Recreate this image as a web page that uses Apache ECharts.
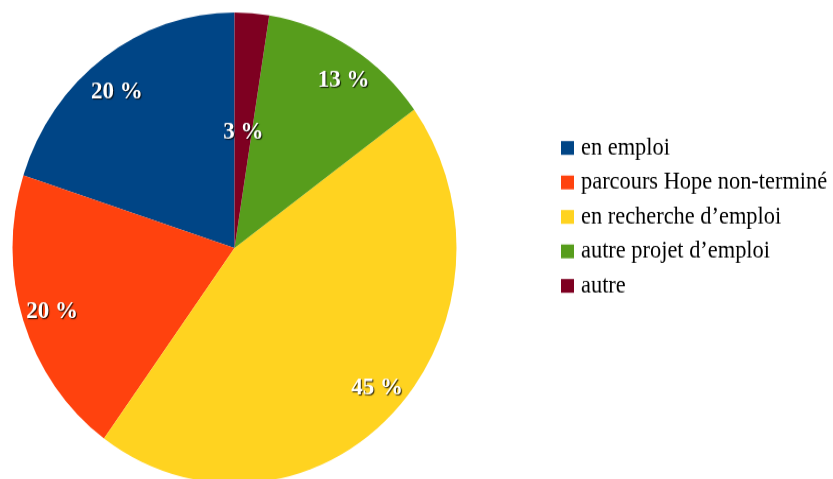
<!DOCTYPE html>
<html>
<head>
<meta charset="utf-8">
<script src="https://cdn.jsdelivr.net/npm/echarts@6/dist/echarts.min.js"></script>
<style>
    html, body { margin: 0; padding: 0; background: #fff; overflow: hidden; }
    /* the original pie is slightly taller than wide */
    #chart { width: 833px; height: 479px; transform-origin: 0 248px; transform: scaleY(1.061); }
</style>
</head>
<body>
<div id="chart"></div>
<script>
var categories = ['en emploi', 'parcours Hope non-terminé', 'en recherche d\u2019emploi', 'autre projet d\u2019emploi', 'autre'];
var values = [8, 8, 18, 5, 1];
var colors = ['#004586', '#ff420e', '#ffd320', '#579d1c', '#7e0021'];

// small nudges so the labels sit where the office suite put them
var labelNudge = {
    'en emploi': [-5, 8],
    'parcours Hope non-terminé': [0, 1],
    'en recherche d\u2019emploi': [7, -3],
    'autre projet d\u2019emploi': [9, 6],
    'autre': [0, 5]
};

var labelStyle = {
    color: '#fff',
    fontFamily: 'Liberation Serif',
    fontWeight: 'bold',
    fontSize: 23,
    textShadowColor: 'rgba(0,0,0,0.85)',
    textShadowOffsetX: 1,
    textShadowOffsetY: 1,
    textShadowBlur: 1,
    formatter: function (p) {
        return Math.round(p.percent) + ' %';
    }
};

// main pie, only the small slice gets its label here
var mainData = categories.map(function (name, i) {
    var item = { name: name, value: values[i], itemStyle: { color: colors[i] } };
    if (name === 'autre') {
        item.label = Object.assign({ show: true, position: 'inside', offset: labelNudge[name] }, labelStyle);
    }
    return item;
});

// transparent ring so that the other labels sit near the rim
var labelData = categories.map(function (name, i) {
    var item = { name: name, value: values[i], label: { offset: labelNudge[name] } };
    if (name === 'autre') {
        item.label.show = false;
    }
    return item;
});

var chart = echarts.init(document.getElementById('chart'));
chart.setOption({
    animation: false,
    legend: {
        orient: 'vertical',
        left: 561,
        top: 142.7,
        padding: 0,
        itemWidth: 13,
        itemHeight: 13,
        itemGap: 10.5,
        icon: 'rect',
        selectedMode: false,
        data: categories,
        textStyle: {
            fontFamily: 'Liberation Serif',
            fontSize: 22.4,
            lineHeight: 22,
            color: '#000',
            padding: [0, 0, 0, 2]
        }
    },
    series: [
        {
            type: 'pie',
            center: [234.5, 248],
            radius: 222,
            startAngle: 90,
            clockwise: false,
            silent: true,
            label: { show: false },
            labelLine: { show: false },
            itemStyle: { borderWidth: 0 },
            emphasis: { disabled: true },
            data: mainData
        },
        {
            type: 'pie',
            center: [234.5, 248],
            radius: [155.4, 222],
            startAngle: 90,
            clockwise: false,
            silent: true,
            itemStyle: { color: 'transparent', borderWidth: 0 },
            label: Object.assign({ show: true, position: 'inside' }, labelStyle),
            labelLine: { show: false },
            emphasis: { disabled: true },
            data: labelData
        }
    ]
});
</script>
</body>
</html>
